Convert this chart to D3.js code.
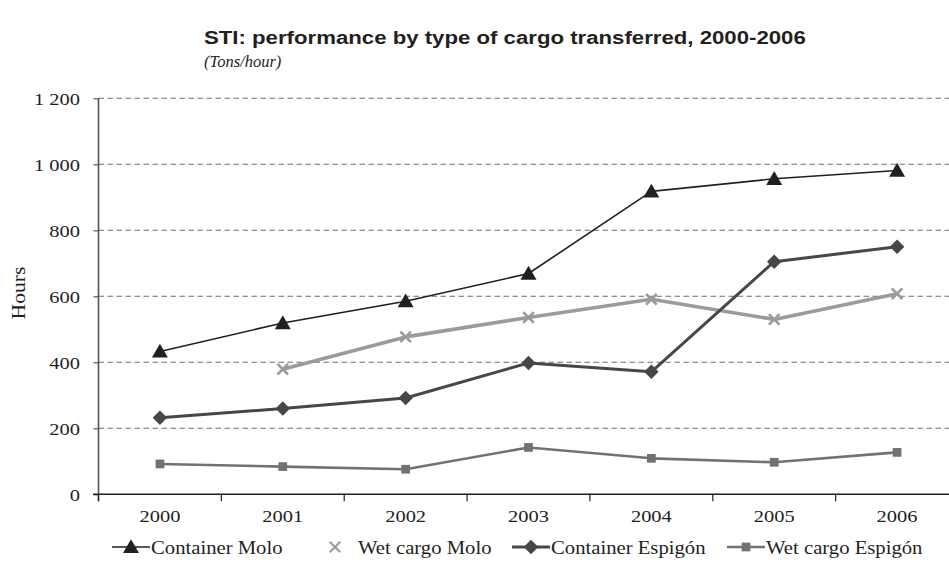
<!DOCTYPE html>
<html>
<head>
<meta charset="utf-8">
<script src="https://cdn.jsdelivr.net/npm/d3@7"></script>
<style>
  html, body { margin: 0; padding: 0; background: #fff; }
  svg { display: block; }
  .serif { font-family: "Liberation Serif", "Times New Roman", Times, serif; }
  .sans { font-family: "Liberation Sans", Arial, Helvetica, sans-serif; }
</style>
</head>
<body>
<svg id="chart" width="949" height="570"></svg>
<script>
// ---- data ----
const years = ["2000", "2001", "2002", "2003", "2004", "2005", "2006"];
const yTicks = [0, 200, 400, 600, 800, 1000, 1200];
const containerMolo = [433, 519, 585, 669, 918, 956, 981];
const wetCargoMolo = [null, 379, 477, 536, 591, 530, 608];
const containerEspigon = [232, 260, 292, 398, 371, 705, 750];
const wetCargoEspigon = [92, 84, 76, 142, 109, 97, 127];
const seriesNames = ["Container Molo", "Wet cargo Molo", "Container Espigón", "Wet cargo Espigón"];
const titleText = "STI: performance by type of cargo transferred, 2000-2006";
const subtitleText = "(Tons/hour)";
const yAxisLabel = "Hours";

// ---- layout ----
const svg = d3.select("#chart");
const SX = 1.2; // horizontal stretch of the reference typography

const x = d3.scaleBand().domain(years).range([98.5, 958.5]).padding(0);
const y = d3.scaleLinear().domain([0, 1200]).range([494.3, 98.3]);
const cx = d => x(d) + x.bandwidth() / 2;

const fmt = d3.formatLocale({decimal: ".", thousands: " ", grouping: [3], currency: ["", ""]}).format(",");

function stretchText(sel, tx, ty, sx) {
  sel.attr("x", 0).attr("y", 0).attr("transform", `translate(${tx},${ty}) scale(${sx},1)`);
}

// title
svg.append("text").text(titleText).attr("class", "sans")
  .attr("font-weight", "bold").attr("font-size", 18.5)
  .attr("fill", "#231f20")
  .call(stretchText, 204, 44, SX);
svg.append("text").text(subtitleText).attr("class", "serif")
  .attr("font-style", "italic").attr("font-size", 16.5)
  .attr("fill", "#231f20")
  .call(stretchText, 204, 67, 1.0);

// gridlines
svg.append("g").selectAll("line").data(yTicks.filter(t => t > 0)).join("line")
  .attr("x1", 98.5).attr("x2", 949)
  .attr("y1", d => y(d)).attr("y2", d => y(d))
  .attr("stroke", "#6d6d6d").attr("stroke-width", 1.1).attr("stroke-dasharray", "5.5,3.5");

// y axis
const yAxisG = svg.append("g").attr("transform", "translate(98.5,0)")
  .call(d3.axisLeft(y).tickValues(yTicks).tickSize(5).tickSizeOuter(0).tickFormat(fmt))
  .attr("font-family", null);
yAxisG.select(".domain").attr("stroke", "#555").attr("stroke-width", 1.6)
  .attr("d", `M0,${y(1200)}V${y(0) + 7}`);
yAxisG.selectAll(".tick line").attr("stroke", "#555").attr("stroke-width", 1.2);
yAxisG.selectAll(".tick text").attr("class", "serif")
  .attr("font-size", 17.5).attr("fill", "#231f20")
  .attr("text-anchor", "end").attr("dy", null)
  .each(function() { d3.select(this).call(stretchText, -18.5, 6, 1.17); });

// x axis
const xAxisG = svg.append("g").attr("transform", `translate(0,${y(0)})`)
  .call(d3.axisBottom(x).tickSize(0).tickSizeOuter(0))
  .attr("font-family", null);
xAxisG.select(".domain").attr("stroke", "#231f20").attr("stroke-width", 1.4)
  .attr("d", "M93,0H949");
xAxisG.selectAll(".tick text").attr("class", "serif")
  .attr("font-size", 17.5).attr("fill", "#231f20")
  .attr("text-anchor", "middle").attr("dy", null)
  .each(function() { d3.select(this).call(stretchText, 0, 28, 1.17); });
// boundary ticks between categories
xAxisG.append("g").selectAll("line").data(years).join("line")
  .attr("x1", d => x(d)).attr("x2", d => x(d))
  .attr("y1", 0).attr("y2", 7)
  .attr("stroke", "#231f20").attr("stroke-width", 1.2);

// y axis label
svg.append("text").text(yAxisLabel).attr("class", "serif")
  .attr("font-size", 18).attr("fill", "#231f20")
  .attr("text-anchor", "middle")
  .attr("transform", "translate(25,293) rotate(-90) scale(1.2,1)");

// ---- series ----
const triangle = d3.symbol().type(d3.symbolTriangle).size(110);
const diamondPath = d3.symbol().type(d3.symbolSquare).size(105)();
const square = d3.symbol().type(d3.symbolSquare).size(76);
const cross = d3.symbol().type(d3.symbolX).size(75);

const series = [
  {name: seriesNames[0], values: containerMolo, color: "#231f20", width: 1.6, marker: "triangle", fill: true},
  {name: seriesNames[1], values: wetCargoMolo, color: "#9b9b9b", width: 3.6, marker: "cross", fill: false},
  {name: seriesNames[2], values: containerEspigon, color: "#474747", width: 3.0, marker: "diamond", fill: true},
  {name: seriesNames[3], values: wetCargoEspigon, color: "#727272", width: 2.6, marker: "square", fill: true}
];

function markerPath(kind) {
  if (kind === "triangle") return triangle();
  if (kind === "diamond") return diamondPath;
  if (kind === "square") return square();
  return cross();
}
function markerTransform(kind, px, py) {
  if (kind === "triangle") return `translate(${px},${py + 1.5})`;
  if (kind === "diamond") return `translate(${px},${py}) rotate(45)`;
  return `translate(${px},${py})`;
}

const line = d3.line()
  .defined(d => d.v != null)
  .x(d => cx(d.year)).y(d => y(d.v));

const drawOrder = [3, 1, 2, 0];
drawOrder.forEach(i => {
  const s = series[i];
  const pts = years.map((yr, k) => ({year: yr, v: s.values[k]}));
  const g = svg.append("g");
  g.append("path").datum(pts).attr("d", line)
    .attr("fill", "none").attr("stroke", s.color).attr("stroke-width", s.width)
    .attr("stroke-linejoin", "round");
  g.selectAll("path.m").data(pts.filter(d => d.v != null)).join("path").attr("class", "m")
    .attr("d", markerPath(s.marker))
    .attr("transform", d => markerTransform(s.marker, cx(d.year), y(d.v)))
    .attr("fill", s.fill ? s.color : "none")
    .attr("stroke", s.fill ? "none" : s.color)
    .attr("stroke-width", s.fill ? 0 : 2.6);
});

// ---- legend ----
const legendY = 547;
const legendItems = [
  {s: series[0], lineX: 112, showLine: true},
  {s: series[1], lineX: 316, showLine: false},
  {s: series[2], lineX: 512, showLine: true},
  {s: series[3], lineX: 727, showLine: true}
];
const leg = svg.append("g");
legendItems.forEach(it => {
  const s = it.s;
  const g = leg.append("g");
  if (it.showLine) {
    g.append("line").attr("x1", it.lineX).attr("x2", it.lineX + 38)
      .attr("y1", legendY).attr("y2", legendY)
      .attr("stroke", s.color).attr("stroke-width", s.width);
  }
  g.append("path").attr("d", markerPath(s.marker))
    .attr("transform", markerTransform(s.marker, it.lineX + 19, legendY))
    .attr("fill", s.fill ? s.color : "none")
    .attr("stroke", s.fill ? "none" : s.color)
    .attr("stroke-width", s.fill ? 0 : 2.2);
  g.append("text").text(s.name).attr("class", "serif")
    .attr("font-size", 18).attr("fill", "#231f20")
    .call(stretchText, it.showLine ? it.lineX + 39 : it.lineX + 42, legendY + 7, 1.15);
});
</script>
</body>
</html>
